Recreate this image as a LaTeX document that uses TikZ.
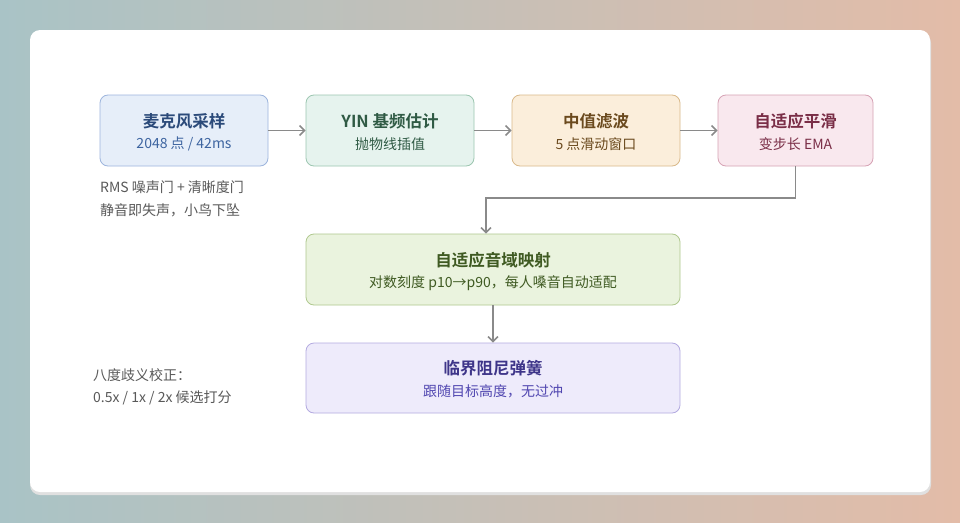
\documentclass[tikz,border=0pt]{standalone}
\usepackage{fontspec}
\setmainfont{Noto Sans CJK SC}[BoldFont={Noto Sans CJK SC Bold}]
\usetikzlibrary{arrows.meta}
\definecolor{bgl}{HTML}{A9C3C6}\definecolor{bgr}{HTML}{E3BCA8}
\definecolor{arr}{HTML}{8A8A8A}
\definecolor{aD}{HTML}{9DB5DD}\definecolor{aF}{HTML}{E6EEF9}\definecolor{aT}{HTML}{2B4A7A}\definecolor{aS}{HTML}{3D64A0}
\definecolor{bD}{HTML}{9CC6B0}\definecolor{bF}{HTML}{E6F3EE}\definecolor{bT}{HTML}{2F5A44}
\definecolor{cD}{HTML}{D9B98A}\definecolor{cF}{HTML}{FBEEDB}\definecolor{cT}{HTML}{6B4A1E}
\definecolor{dD}{HTML}{D6A2B4}\definecolor{dF}{HTML}{F9E8EE}\definecolor{dT}{HTML}{7A2E47}
\definecolor{eD}{HTML}{AFC88E}\definecolor{eF}{HTML}{EAF3DE}\definecolor{eT}{HTML}{3F5A22}
\definecolor{fD}{HTML}{B3AAE0}\definecolor{fF}{HTML}{EEEBFB}\definecolor{fT}{HTML}{3E3589}\definecolor{fS}{HTML}{5046B0}
\tikzset{
 box/.style 2 args={draw=#1, fill=#2, line width=0.8pt, rounded corners=8pt, inner sep=0pt},
 ttl/.style={font=\fontsize{16.5}{19}\selectfont\bfseries},
 sub/.style={font=\fontsize{14}{17}\selectfont},
 note/.style={font=\fontsize{14}{17}\selectfont, text=black!65, anchor=west, inner sep=0pt},
 ar/.style={draw=arr, line width=1.5pt, -{Straight Barb[length=5pt,width=10pt]}}
}
\begin{document}
\begin{tikzpicture}[x=1pt,y=-1pt]
\useasboundingbox (0,0) rectangle (960,522);
\shade[left color=bgl, right color=bgr] (0,0) rectangle (960,522);
\fill[black!12,rounded corners=10pt] (30,33) rectangle (931,495);
\fill[white,rounded corners=10pt] (30,30) rectangle (930,492);
\node[box={aD}{aF}, minimum width=168pt, minimum height=71pt] (a) at (184,130.5) {};
\node[box={bD}{bF}, minimum width=168pt, minimum height=71pt] (b) at (390,130.5) {};
\node[box={cD}{cF}, minimum width=168pt, minimum height=71pt] (c) at (596,130.5) {};
\node[box={dD}{dF}, minimum width=155pt, minimum height=71pt] (d) at (795.5,130.5) {};
\node[box={eD}{eF}, minimum width=374pt, minimum height=71pt] (e) at (493,269.5) {};
\node[box={fD}{fF}, minimum width=374pt, minimum height=70pt] (f) at (493,378) {};
\node[ttl,text=aT] (a1) at (184,121) {麦克风采样};
\node[sub,text=aS] (a2) at (184,144) {2048 点 / 42ms};
\node[ttl,text=bT] (b1) at (390,121) {YIN 基频估计};
\node[sub,text=bT] (b2) at (390,144) {抛物线插值};
\node[ttl,text=cT] (c1) at (596,121) {中值滤波};
\node[sub,text=cT] (c2) at (596,144) {5 点滑动窗口};
\node[ttl,text=dT] (d1) at (795.5,121) {自适应平滑};
\node[sub,text=dT] (d2) at (795.5,144) {变步长 EMA};
\node[ttl,text=eT] (e1) at (493,260) {自适应音域映射};
\node[sub,text=eT] (e2) at (493,283) {对数刻度 p10→p90，每人嗓音自动适配};
\node[ttl,text=fT] (f1) at (493,368) {临界阻尼弹簧};
\node[sub,text=fS] (f2) at (493,391) {跟随目标高度，无过冲};
\node[note] (n1) at (100,187) {RMS 噪声门 + 清晰度门};
\node[note] (n2) at (100,210) {静音即失声，小鸟下坠};
\node[note] (n3) at (93,375) {八度歧义校正：};
\node[note] (n4) at (93,398) {0.5x / 1x / 2x 候选打分};
\draw[ar] (a) -- (b);
\draw[ar] (b) -- (c);
\draw[ar] (c) -- (d);
\coordinate (k1) at (d.south |- 0,198);
\coordinate (k2) at (486,198);
\draw[ar] (d.south) -- (k1) -- (k2) -- (k2 |- e.north);
\draw[ar] (e.south -| 493,0) -- (f);
\end{tikzpicture}
\end{document}
